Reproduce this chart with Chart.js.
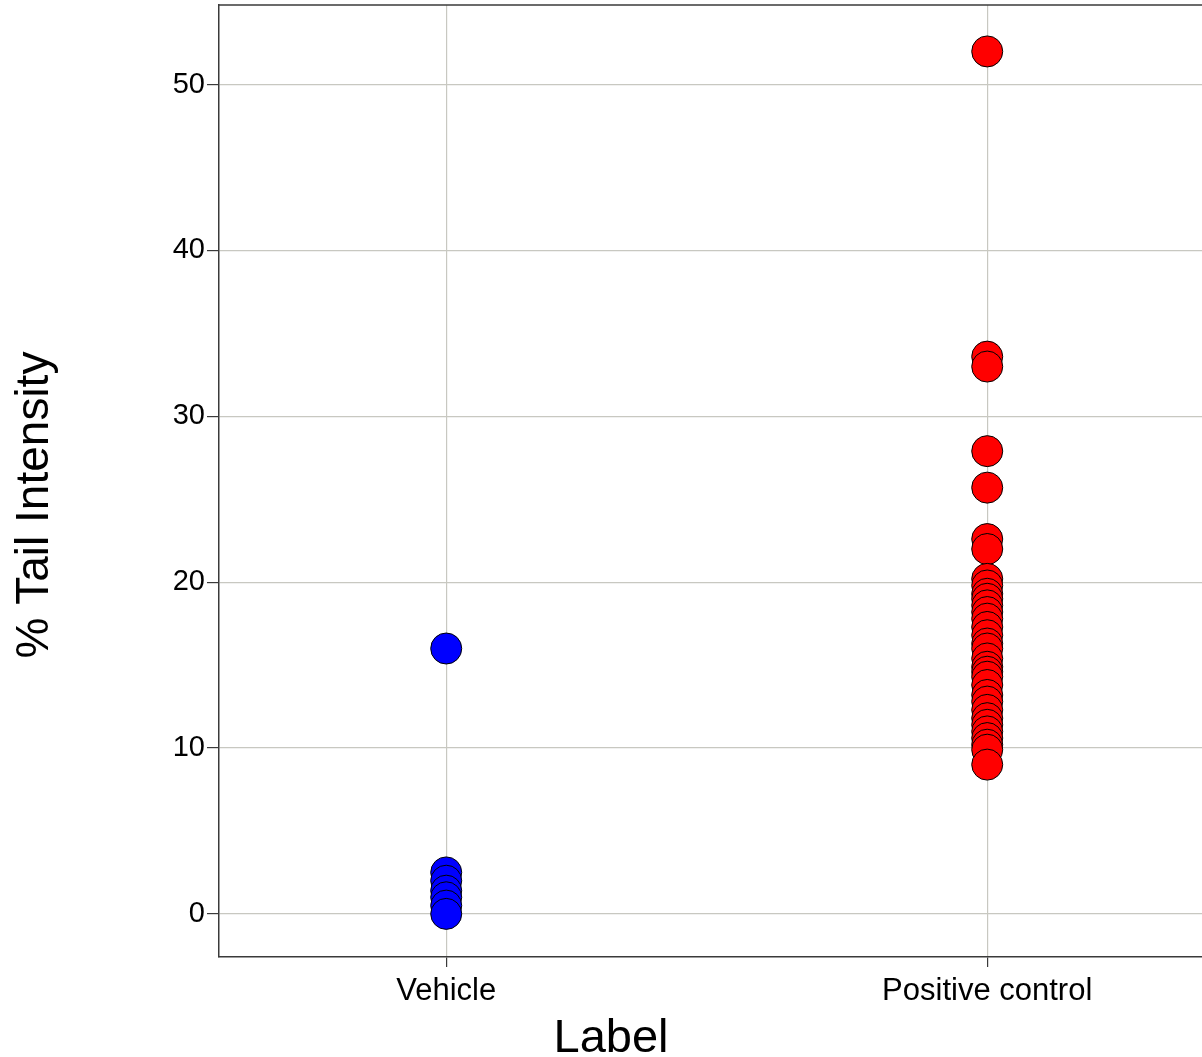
<!DOCTYPE html>
<html>
<head>
<meta charset="utf-8">
<script src="https://cdn.jsdelivr.net/npm/chart.js@4/dist/chart.umd.min.js"></script>
<style>
  html, body { margin: 0; padding: 0; background: #ffffff; overflow: hidden; }
  #wrap { width: 1202px; height: 1057px; position: relative; }
</style>
</head>
<body>
<div id="wrap"><canvas id="c" width="1202" height="1057"></canvas></div>
<script>
// Groups on the x axis
const categories = ['Vehicle', 'Positive control'];

// % tail intensity per scored cell, by group
const vehicleValues = [16.0, 2.5, 2.0, 1.4, 1.0, 0.5, 0.0];
const positiveControlValues = [
  52.0, 33.6, 33.0, 27.9, 25.7, 22.6, 22.0, 20.2, 19.8, 19.3, 19.0,
  18.6, 18.2, 17.8, 17.3, 16.8, 16.3, 16.0, 15.4, 14.9, 14.6, 14.3,
  13.8, 13.2, 12.8, 12.3, 11.8, 11.4, 11.0, 10.6, 10.2, 9.9, 9.0
];

// Tick labels on the value axis
const yTickValues = [0, 10, 20, 30, 40, 50];

// Axis titles
const xTitle = 'Label';
const yTitle = '% Tail Intensity';

const FONT = '"Liberation Sans", Arial, sans-serif';
const GRID = '#c8c8c1';
const AXIS = '#3a3a3a';

function toPoints(values, groupIndex) {
  return values.map(v => ({ x: groupIndex + 1, y: v }));
}

// Drop the automatic label padding so the panel fills its box exactly
function noAutoPadding(scale) {
  scale.paddingTop = 0;
  scale.paddingBottom = 0;
  scale.paddingLeft = 0;
  scale.paddingRight = 0;
}

// Top frame line and the two axis titles
const frameAndTitles = {
  id: 'frameAndTitles',
  afterDraw(chart) {
    const { ctx, chartArea } = chart;
    ctx.save();
    ctx.strokeStyle = AXIS;
    ctx.lineWidth = 1.5;
    ctx.beginPath();
    ctx.moveTo(chartArea.left, chartArea.top);
    ctx.lineTo(chart.width, chartArea.top);
    ctx.stroke();

    ctx.fillStyle = '#000000';
    ctx.font = '47px ' + FONT;
    ctx.textAlign = 'center';
    ctx.textBaseline = 'alphabetic';
    ctx.fillText(xTitle, 611, 1052);

    ctx.translate(48, 505);
    ctx.rotate(-Math.PI / 2);
    ctx.font = '46px ' + FONT;
    ctx.fillText(yTitle, 0, 0);
    ctx.restore();
  }
};

new Chart(document.getElementById('c'), {
  type: 'scatter',
  data: {
    datasets: [
      {
        label: categories[0],
        data: toPoints(vehicleValues, 0),
        backgroundColor: '#0000ff',
        borderColor: '#000000',
        borderWidth: 1,
        pointRadius: 15.5,
        pointHoverRadius: 15.5
      },
      {
        label: categories[1],
        data: toPoints(positiveControlValues, 1),
        backgroundColor: '#ff0000',
        borderColor: '#000000',
        borderWidth: 1,
        pointRadius: 15.5,
        pointHoverRadius: 15.5
      }
    ]
  },
  options: {
    responsive: false,
    animation: false,
    layout: {
      autoPadding: false,
      padding: { top: 5, right: 0, left: 0, bottom: 0 }
    },
    plugins: {
      legend: { display: false },
      tooltip: { enabled: false }
    },
    scales: {
      x: {
        type: 'linear',
        min: 0.58,
        max: 2.397,
        afterBuildTicks(scale) {
          scale.ticks = categories.map((_, i) => ({ value: i + 1 }));
        },
        afterFit(scale) {
          scale.height = 100;
          noAutoPadding(scale);
        },
        ticks: {
          autoSkip: false,
          maxRotation: 0,
          padding: 6,
          color: '#000000',
          font: { family: FONT, size: 31 },
          callback: (v) => categories[Math.round(v) - 1]
        },
        grid: {
          color: GRID,
          lineWidth: 1.2,
          tickColor: AXIS,
          tickLength: 10
        },
        border: { display: true, color: AXIS, width: 1.5 },
        title: { display: false }
      },
      y: {
        type: 'linear',
        min: -2.6,
        max: 54.8,
        afterBuildTicks(scale) {
          scale.ticks = yTickValues.map(v => ({ value: v }));
        },
        afterFit(scale) {
          scale.width = 219;
          noAutoPadding(scale);
        },
        ticks: {
          padding: 2,
          color: '#000000',
          font: { family: FONT, size: 29 },
          callback: (v) => String(v)
        },
        grid: {
          color: GRID,
          lineWidth: 1.2,
          tickColor: AXIS,
          tickLength: 12
        },
        border: { display: true, color: AXIS, width: 1.5 },
        title: { display: false }
      }
    }
  },
  plugins: [frameAndTitles]
});
</script>
</body>
</html>
